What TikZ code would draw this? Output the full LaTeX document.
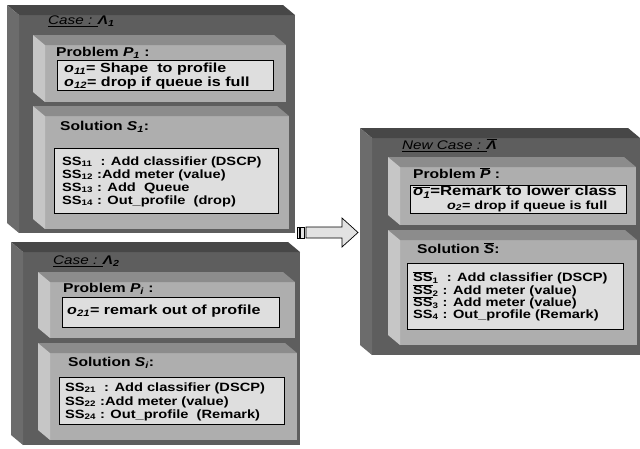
\documentclass[tikz,border=0pt]{standalone}
\usepackage{fontspec}
\setmainfont{Liberation Sans}[FakeStretch=1.22]
\definecolor{outertop}{HTML}{474747}
\definecolor{outerleft}{HTML}{6C6C6C}
\definecolor{outerfront}{HTML}{5E5E5E}
\definecolor{innertop}{HTML}{8C8C8C}
\definecolor{innerleft}{HTML}{C6C6C6}
\definecolor{innerfront}{HTML}{AEAEAE}
\definecolor{slip}{HTML}{DEDEDE}
\definecolor{arrowfill}{HTML}{E2E2E2}
% bevelled block: front face x1,y1 -> x2,y2, depth 12 x 10 towards the upper left
\newcommand\bevelblock[5]{%
  \fill[#5front] (#1,#2) rectangle (#3,#4);
  \fill[#5top] (#1-12,#2-10) -- (#3-12,#2-10) -- (#3,#2) -- (#1,#2) -- cycle;
  \fill[#5left] (#1-12,#2-10) -- (#1,#2) -- (#1,#4) -- (#1-12,#4-10) -- cycle;
}
\newcommand\ovl[1]{$\overline{\mbox{#1}}$}
\begin{document}
\begin{tikzpicture}[x=1pt,y=-1pt,
  casetxt/.style={anchor=west, inner sep=0pt, font=\fontsize{12.5}{14}\selectfont},
  headtxt/.style={anchor=west, inner sep=0pt, font=\bfseries\fontsize{12.8}{14}\selectfont},
  probtxt/.style={anchor=west, inner sep=0pt, font=\bfseries\fontsize{13.2}{15}\selectfont},
  soltxt/.style={anchor=west, inner sep=0pt, font=\bfseries\fontsize{12}{13}\selectfont},
  slipbox/.style={draw=black, line width=0.8pt, fill=slip},
  arrowpart/.style={draw=black, line width=0.7pt, fill=arrowfill}]
\useasboundingbox (0,0) rectangle (640,448);

% ---------- Case A1 ----------
\bevelblock{19}{15}{295}{233}{outer}
\bevelblock{45}{45}{286}{102}{inner}
\bevelblock{45}{116}{289}{229}{inner}
\node[casetxt] (c1) at (48,21) {\underline{\itshape Case : }\textbf{\itshape Λ\textsubscript{1}}};
\node[headtxt] (p1) at (56,53) {Problem \textit{P\textsubscript{1}} :};
\path[slipbox] (57,60) rectangle (273,90);
\node[probtxt] (o11) at (64,69) {\textit{o\textsubscript{11}}= Shape\ \ to profile};
\node[probtxt] (o12) at (64,83) {\textit{o\textsubscript{12}}= drop if queue is full};
\node[headtxt] (s1) at (60,127) {Solution \textit{S\textsubscript{1}}:};
\path[slipbox] (54,148) rectangle (278,213);
\node[soltxt] (ss11) at (62,162) {SS\textsubscript{11}\ \ : Add classifier (DSCP)};
\node[soltxt] (ss12) at (62,175) {SS\textsubscript{12} :Add meter (value)};
\node[soltxt] (ss13) at (62,188) {SS\textsubscript{13} : Add\ \ Queue};
\node[soltxt] (ss14) at (62,201) {SS\textsubscript{14} : Out\_profile\ \ (drop)};

% ---------- Case A2 ----------
\bevelblock{23}{252}{300}{445}{outer}
\bevelblock{50}{282}{295}{338}{inner}
\bevelblock{50}{353}{297}{440}{inner}
\node[casetxt] (c2) at (53,261) {\underline{\itshape Case : }\textbf{\itshape Λ\textsubscript{2}}};
\node[headtxt] (p2) at (63,289) {Problem \textit{P\textsubscript{i}} :};
\path[slipbox] (62,297) rectangle (279,327);
\node[probtxt] (o21) at (67,311) {\textit{o\textsubscript{21}}= remark out of profile};
\node[headtxt] (s2) at (68,363) {Solution \textit{S\textsubscript{i}}:};
\path[slipbox] (59,377) rectangle (284,424);
\node[soltxt] (ss21) at (65,388) {SS\textsubscript{21}\ \ : Add classifier (DSCP)};
\node[soltxt] (ss22) at (65,402) {SS\textsubscript{22} :Add meter (value)};
\node[soltxt] (ss24) at (65,415) {SS\textsubscript{24} : Out\_profile\ \ (Remark)};

% ---------- New case ----------
\bevelblock{372}{138}{640}{355}{outer}
\bevelblock{400}{167}{636}{225}{inner}
\bevelblock{400}{240}{637}{345}{inner}
\node[casetxt] (c3) at (402,145) {\underline{\itshape New Case : }\textbf{\itshape \ovl{Λ}}};
\node[headtxt] (p3) at (413,173) {Problem \textit{\ovl{P}} :};
\path[slipbox] (410,185) rectangle (626,213);
\node[probtxt, font=\bfseries\fontsize{13.7}{15}\selectfont] (o1) at (413,192)
  {\ovl{\textit{o\textsubscript{1}}}=Remark to lower class};
\node[probtxt, font=\bfseries\fontsize{11.8}{14}\selectfont] (o2) at (447,206)
  {\textit{o\textsubscript{2}}= drop if queue is full};
\node[headtxt] (s3) at (417,248) {Solution \textit{\ovl{S}}:};
\path[slipbox] (407,263) rectangle (623,329);
\node[soltxt] (ss1) at (413,278) {\ovl{SS}\textsubscript{1}\ \ : Add classifier (DSCP)};
\node[soltxt] (ss2) at (413,291) {\ovl{SS}\textsubscript{2} : Add meter (value)};
\node[soltxt] (ss3) at (413,303) {\ovl{SS}\textsubscript{3} : Add meter (value)};
\node[soltxt] (ss4) at (413,315) {SS\textsubscript{4} : Out\_profile (Remark)};

% ---------- striped block arrow ----------
\path[arrowpart] (297,227) rectangle (299.5,238);
\path[arrowpart] (300.8,227) rectangle (304.5,238);
\path[arrowpart] (306,227) -- (342,227) -- (342,218) -- (358,232.5)
  -- (342,247) -- (342,238) -- (306,238) -- cycle;
\end{tikzpicture}
\end{document}
